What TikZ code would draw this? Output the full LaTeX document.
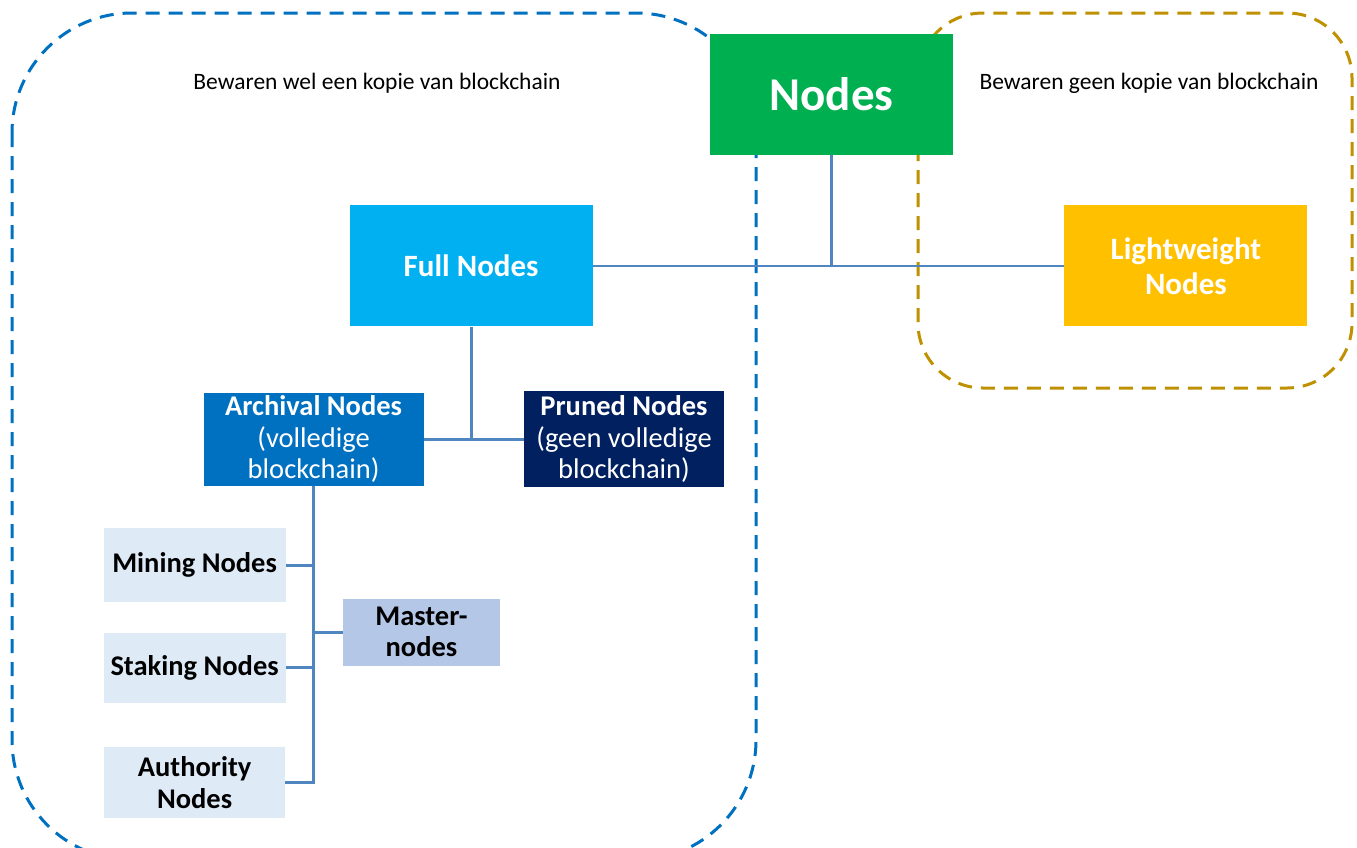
\documentclass[tikz,border=0pt]{standalone}
\usepackage{fontspec}
\setmainfont{Carlito}
\usetikzlibrary{positioning}
\definecolor{nodegreen}{HTML}{00B050}
\definecolor{fullblue}{HTML}{00B0F0}
\definecolor{lightorange}{HTML}{FFC000}
\definecolor{archblue}{HTML}{0070C0}
\definecolor{prunedblue}{HTML}{002060}
\definecolor{paleblue}{HTML}{DEEBF7}
\definecolor{masterblue}{HTML}{B4C7E7}
\definecolor{linkblue}{HTML}{4F86C0}
\definecolor{regionblue}{HTML}{0070C0}
\definecolor{regiongold}{HTML}{BF9000}

\begin{document}
\begin{tikzpicture}[x=1pt,y=-1pt,
      box/.style={inner sep=0pt,align=center,text=white,
                  font=\bfseries\fontsize{31}{35}\selectfont},
      subbox/.style={inner sep=0pt,align=center,
                  font=\fontsize{28.5}{31.5}\selectfont},
      leaf/.style={subbox,fill=paleblue,font=\bfseries\fontsize{28.5}{31.5}\selectfont},
      link/.style={draw=linkblue,line width=2.8pt},
      region/.style={line width=3pt,dash pattern=on 14pt off 9pt},
      remark/.style={font=\fontsize{23.5}{28}\selectfont}]
    \useasboundingbox (0,0) rectangle (1357,847);

    % dashed groups
    \draw[region,regionblue,rounded corners=120pt] (12,13) rectangle (756,860);
    \draw[region,regiongold,rounded corners=65pt] (918,13) rectangle (1352,388);
    \node[remark] (keep) at (377,83) {Bewaren wel een kopie van blockchain};
    \node[remark] (nokeep) at (1149,83) {Bewaren geen kopie van blockchain};

    \node[box,fill=nodegreen,minimum width=243pt,minimum height=121pt,
          font=\bfseries\fontsize{47}{50}\selectfont] (nodes) at (831.5,94.5) {Nodes};
    \node[box,fill=fullblue,minimum width=243pt,minimum height=121pt,
          below left=50pt and 117pt of nodes] (full) {Full Nodes};
    \node[box,fill=lightorange,minimum width=243pt,minimum height=121pt,
          below right=50pt and 111pt of nodes] (light) {Lightweight\\Nodes};
    \draw[link] (nodes.south) -- (nodes.south |- full.east);
    \draw[link] (full.east) -- (light.west);

    \node[subbox,fill=archblue,text=white,minimum width=220pt,minimum height=93pt,
          below=66pt of full,xshift=-157.5pt] (archival) {\textbf{Archival Nodes}\\(volledige\\blockchain)};
    \node[subbox,fill=prunedblue,text=white,minimum width=200pt,minimum height=96pt,
          right=100pt of archival] (pruned) {\textbf{Pruned Nodes}\\(geen volledige\\blockchain)};
    \draw[link] (full.south) -- (full.south |- archival.east);
    \draw[link] (archival.east) -- (pruned.west);

    \node[leaf,minimum width=182pt,minimum height=74pt,
          below=42pt of archival,xshift=-119pt] (mining) {Mining Nodes};
    \node[leaf,minimum width=182pt,minimum height=70pt,
          below=30pt of mining] (staking) {Staking Nodes};
    \node[leaf,minimum width=181pt,minimum height=71pt,
          below=44pt of staking] (authority) {Authority\\Nodes};
    \node[leaf,fill=masterblue,minimum width=157pt,minimum height=67pt,
          right=57pt of staking,yshift=35.5pt] (master) {Master-\\nodes};
    \draw[link] (archival.south) -- (archival.south |- authority.east) -- (authority.east);
    \foreach \kind in {mining,staking}
      \draw[link] (\kind.east) -- (\kind.east -| archival.south);
    \draw[link] (master.west) -- (master.west -| archival.south);
  \end{tikzpicture}
\end{document}
